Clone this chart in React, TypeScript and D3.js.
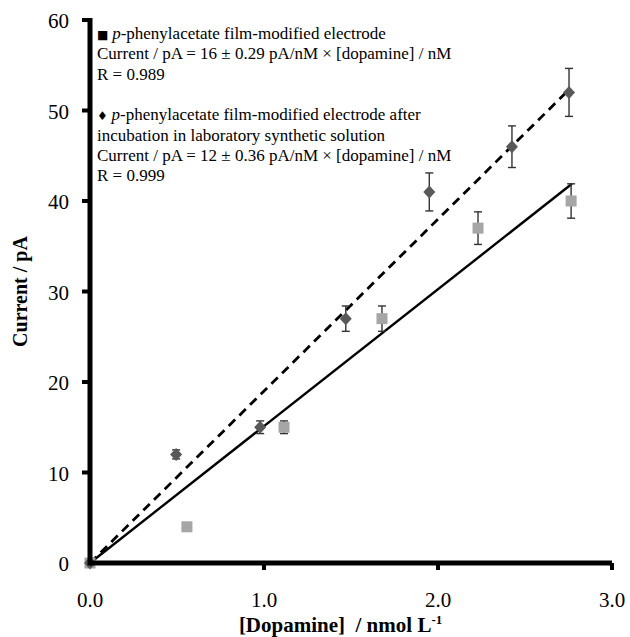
import React from "react";
import * as d3 from "d3";

const squareX = [0, 0.557, 1.115, 1.678, 2.23, 2.765];
const squareY = [0, 4, 15, 27, 37, 40];
const squareErr = [0, 0, 0.7, 1.4, 1.8, 1.9];

const diamondX = [0, 0.495, 0.978, 1.47, 1.95, 2.425, 2.753];
const diamondY = [0, 12, 15, 27, 41, 46, 52];
const diamondErr = [0, 0.5, 0.7, 1.4, 2.1, 2.3, 2.65];

const solidFitX = [0, 2.77];
const solidFitY = [0, 41.9];
const dashedFitX = [0, 2.753];
const dashedFitY = [0, 52.3];

const xTicks = [0, 1, 2, 3];
const yTicks = [0, 10, 20, 30, 40, 50, 60];

const legendLines = [
  { sym: "■ ", italic: "p", rest: "-phenylacetate film-modified electrode" },
  { text: "Current / pA = 16 ± 0.29 pA/nM × [dopamine] / nM" },
  { text: "R = 0.989" },
  { text: "" },
  { sym: "♦ ", italic: "p", rest: "-phenylacetate film-modified electrode after" },
  { text: "incubation in laboratory synthetic solution" },
  { text: "Current / pA = 12 ± 0.36 pA/nM × [dopamine] / nM" },
  { text: "R = 0.999" },
];

const W = 630;
const H = 637;
const serif = "'Liberation Serif', 'Times New Roman', serif";

export default function App() {
  const x = d3.scaleLinear().domain([0, 3]).range([90, 612]);
  const y = d3.scaleLinear().domain([0, 60]).range([563, 20]);
  const line = d3
    .line<[number, number]>()
    .x((d) => x(d[0]))
    .y((d) => y(d[1]));

  const solidPts = solidFitX.map((v, i) => [v, solidFitY[i]] as [number, number]);
  const dashedPts = dashedFitX.map((v, i) => [v, dashedFitY[i]] as [number, number]);

  const errBar = (cx: number, cy: number, e: number, key: string) => {
    if (!e) return null;
    const top = y(cy + e);
    const bot = y(cy - e);
    const px = x(cx);
    return (
      <g key={key} stroke="#333" strokeWidth={1.4}>
        <line x1={px} x2={px} y1={top} y2={bot} />
        <line x1={px - 4} x2={px + 4} y1={top} y2={top} />
        <line x1={px - 4} x2={px + 4} y1={bot} y2={bot} />
      </g>
    );
  };

  return (
    <svg
      width={W}
      height={H}
      style={{ position: "absolute", left: 0, top: 0, background: "#fff" }}
      fontFamily={serif}
    >
      <rect width={W} height={H} fill="#fff" />
      {/* fit lines */}
      <path d={line(solidPts) || ""} fill="none" stroke="#000" strokeWidth={2.4} />
      <path
        d={line(dashedPts) || ""}
        fill="none"
        stroke="#000"
        strokeWidth={2.8}
        strokeDasharray="9,6"
      />
      {/* error bars */}
      {squareX.map((v, i) => errBar(v, squareY[i], squareErr[i], "se" + i))}
      {diamondX.map((v, i) => errBar(v, diamondY[i], diamondErr[i], "de" + i))}
      {/* markers */}
      {squareX.map((v, i) => (
        <rect
          key={"s" + i}
          x={x(v) - 5.5}
          y={y(squareY[i]) - 5.5}
          width={11}
          height={11}
          fill="#a6a6a6"
        />
      ))}
      {diamondX.map((v, i) => {
        const cx = x(v);
        const cy = y(diamondY[i]);
        return (
          <path
            key={"d" + i}
            d={`M${cx},${cy - 6.5}L${cx + 6},${cy}L${cx},${cy + 6.5}L${cx - 6},${cy}Z`}
            fill="#595959"
          />
        );
      })}
      {/* axes */}
      <line x1={x(0)} x2={x(3)} y1={y(0)} y2={y(0)} stroke="#000" strokeWidth={5} />
      <line x1={x(0)} x2={x(0)} y1={y(0) + 2.5} y2={y(60) - 2} stroke="#000" strokeWidth={5} />
      {xTicks.map((t) => (
        <g key={"xt" + t}>
          {t > 0 && (
            <line x1={x(t)} x2={x(t)} y1={y(0)} y2={y(0) + 7} stroke="#000" strokeWidth={4} />
          )}
          <text x={x(t)} y={607} fontSize={21} textAnchor="middle" fill="#000">
            {t.toFixed(1)}
          </text>
        </g>
      ))}
      {yTicks.map((t) => (
        <g key={"yt" + t}>
          {t > 0 && (
            <line x1={x(0) - 8} x2={x(0)} y1={y(t)} y2={y(t)} stroke="#000" strokeWidth={4} />
          )}
          <text
            x={69}
            y={y(t) + 1}
            fontSize={21}
            textAnchor="end"
            dominantBaseline="central"
            fill="#000"
          >
            {t}
          </text>
        </g>
      ))}
      {/* axis titles */}
      <text
        transform={`translate(27,${(y(0) + y(60)) / 2}) rotate(-90)`}
        textAnchor="middle"
        fontSize={20}
        fontWeight="bold"
        fill="#000"
      >
        Current / pA
      </text>
      <text x={x(1.44)} y={632} textAnchor="middle" fontSize={21} fontWeight="bold" fill="#000">
        <tspan>{"[Dopamine]\u00A0\u00A0/ nmol L"}</tspan>
        <tspan dy={-8} fontSize={13}>-1</tspan>
      </text>
      {/* legend */}
      {legendLines.map((l, i) => (
        <text key={"lg" + i} x={97} y={39 + i * 20.3} fontSize={17} fill="#000">
          {"sym" in l && l.sym ? (
            <>
              <tspan fontSize={12} fontFamily="'DejaVu Sans', sans-serif">{l.sym}</tspan>
              <tspan fontStyle="italic">{l.italic}</tspan>
              <tspan>{l.rest}</tspan>
            </>
          ) : (
            (l as any).text
          )}
        </text>
      ))}
    </svg>
  );
}
